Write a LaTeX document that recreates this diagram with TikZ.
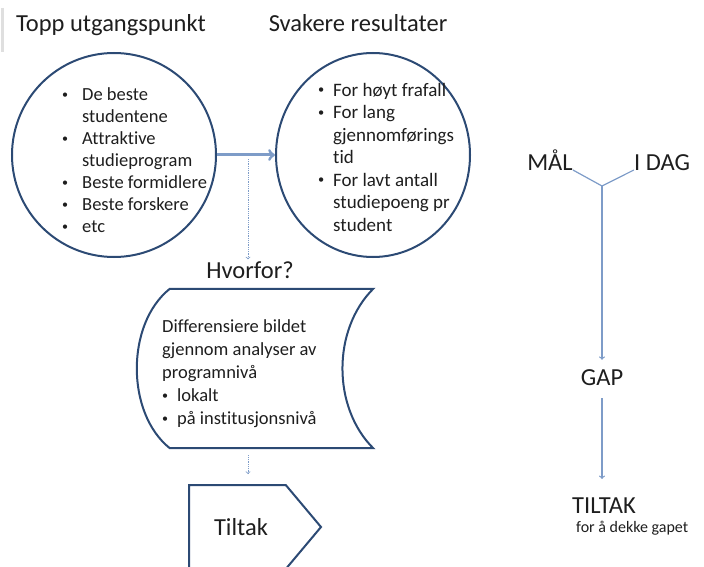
\documentclass[tikz,border=0pt]{standalone}
\usepackage{graphicx}
\usepackage{fontspec}
\setmainfont[Ligatures=NoCommon]{Carlito}
\usetikzlibrary{shapes,positioning,calc}

\definecolor{navy}{HTML}{2C4A74}
\definecolor{lineblue}{HTML}{7E9CC8}
\definecolor{txtgray}{HTML}{1E1E1E}

\newcommand{\dotb}{\raisebox{0.12em}{\scalebox{0.65}{\textbullet}}}
\newcommand{\itm}[2][18pt]{\makebox[#1][l]{\dotb}#2}
\newcommand{\cnt}[2][18pt]{\hspace*{#1}#2}

\begin{document}
\begin{tikzpicture}[x=1pt,y=-1pt]
	\tikzstyle{circ_box}=[draw=navy, line width=2pt, ellipse, inner sep=0pt];
	\tikzstyle{bullet_txt}=[align=left, anchor=west, inner sep=0pt, text=txtgray, font=\fontsize{18.5}{22}\selectfont];
	\tikzstyle{head_txt}=[inner sep=2pt, text=txtgray, font=\fontsize{24.5}{29}\selectfont];
	\tikzstyle{flow_arr}=[->, line width=1.2pt, draw=lineblue];
	\tikzstyle{dot_arr}=[->, densely dotted, line width=0.8pt, draw=lineblue];

	\useasboundingbox (0,0) rectangle (704,567);
	\draw[line width=3pt, gray!25] (2,8) -- (2,52);

	% left side
	\node[head_txt, anchor=base] (t_start) at (111,32) {Topp utgangspunkt};
	\node[head_txt, anchor=base] (t_res) at (358,32) {Svakere resultater};

	\node[circ_box, minimum width=204pt, minimum height=204pt] (c_start) at (114,155) {};
	\node[circ_box, minimum width=194pt, minimum height=204pt] (c_res) at (373,155) {};

	\node[bullet_txt] (l_start) at ($(c_start)+(-52,5)$) {\itm[20pt]{De beste}\\\cnt[20pt]{studentene}\\\itm[20pt]{Attraktive}\\\cnt[20pt]{studieprogram}\\\itm[20pt]{Beste formidlere}\\\itm[20pt]{Beste forskere}\\\itm[20pt]{etc}};
	\node[bullet_txt, font=\fontsize{19}{22.5}\selectfont] (l_res) at ($(c_res)+(-55,2)$) {\itm[15pt]{For høyt frafall}\\\itm[15pt]{For lang}\\\cnt[15pt]{gjennomførings}\\\cnt[15pt]{tid}\\\itm[15pt]{For lavt antall}\\\cnt[15pt]{studiepoeng pr}\\\cnt[15pt]{student}};

	\draw[flow_arr, line width=3pt] (c_start.east) -- (c_res.west);

	\coordinate (split) at (248,159);
	\node[head_txt] (why_q) at (250,270) {Hvorfor?};
	\draw[dot_arr] (split) -- (split |- why_q.north);

	\node[minimum width=203pt, minimum height=159pt, inner sep=0pt] (why_box) at (271.5,368.5) {};
	\draw[draw=navy, line width=2pt] (why_box.north west) -- (why_box.north east)
		.. controls ($(why_box.north east)+(-41,41)$) and ($(why_box.south east)+(-41,-41)$) .. (why_box.south east)
		-- (why_box.south west)
		.. controls ($(why_box.south west)+(-44,-35)$) and ($(why_box.north west)+(-44,35)$) .. cycle;
	\node[bullet_txt, font=\fontsize{18.5}{23}\selectfont] (why_txt) at (162,374) {Differensiere bildet\\gjennom analyser av\\programnivå\\\itm[15pt]{lokalt}\\\itm[15pt]{på institusjonsnivå}};

	\node[signal, signal to=east, signal from=nowhere, signal pointer angle=100, draw=navy, line width=2pt, minimum width=132pt, minimum height=84pt, inner sep=0pt, anchor=west] (tiltak) at (188,527) {};
	\node[head_txt] (tiltak_txt) at (241,527) {Tiltak};
	\draw[dot_arr] ($(why_box.south)+(-23.5,7)$) -- ($(why_box.south |- tiltak.north)+(-23.5,-10)$);

	% right side
	\node[head_txt, anchor=base, inner sep=0pt] (mal) at (550,170) {MÅL};
	\node[head_txt, anchor=base, inner sep=0pt] (idag) at (662,170) {I DAG};
	\coordinate (fork) at (602,186);
	\draw[lineblue, line width=1.2pt] (mal.base east) -- (fork) -- (idag.base west);

	\node[head_txt] (gap) at (602,378) {GAP};
	\node[head_txt, inner sep=0pt] (tiltak_r) at (604,506) {TILTAK};
	\node[text=txtgray, font=\fontsize{16}{19}\selectfont, anchor=west, inner sep=0pt] (gap_sub) at (576,528) {for å dekke gapet};

	\draw[flow_arr, shorten >=8pt] (fork) -- (gap.north -| fork);
	\draw[flow_arr, shorten <=10pt, shorten >=19pt] (gap.south) -- (gap.south |- tiltak_r.north);
\end{tikzpicture}
\end{document}
